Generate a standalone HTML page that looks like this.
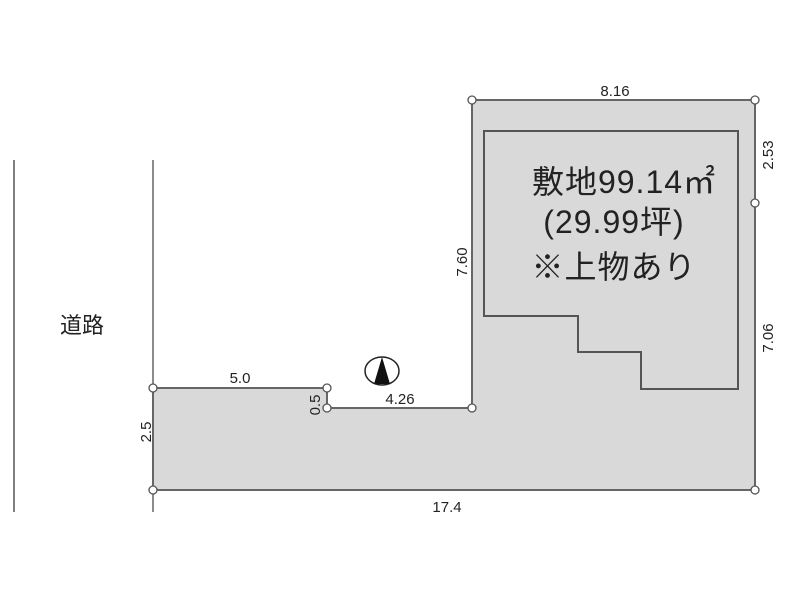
<!DOCTYPE html>
<html><head><meta charset="utf-8"><style>
html,body{margin:0;padding:0;background:#fff;width:800px;height:600px;overflow:hidden}
svg text{font-family:"Liberation Sans","Noto Sans CJK JP",sans-serif;fill:#222}
</style></head><body>
<svg width="800" height="600" xmlns="http://www.w3.org/2000/svg">
<line x1="14" y1="160" x2="14" y2="512" stroke="#555" stroke-width="1.5"/>
<line x1="153" y1="160" x2="153" y2="512" stroke="#666" stroke-width="1.5"/>
<polygon points="153,388 327,388 327,408 472,408 472,100 755,100 755,490 153,490" fill="#d9d9d9" stroke="#666" stroke-width="2"/>
<polygon points="484,131 738,131 738,389 641,389 641,352 578,352 578,316 484,316" fill="#d9d9d9" stroke="#555" stroke-width="2"/>
<g fill="#fff" stroke="#555" stroke-width="1.3">
<circle cx="153" cy="388" r="4"/><circle cx="327" cy="388" r="4"/><circle cx="327" cy="408" r="4"/>
<circle cx="472" cy="408" r="4"/><circle cx="472" cy="100" r="4"/><circle cx="755" cy="100" r="4"/>
<circle cx="755" cy="203" r="4"/><circle cx="755" cy="490" r="4"/><circle cx="153" cy="490" r="4"/>
</g>
<ellipse cx="382" cy="371" rx="17" ry="14" fill="#fff" stroke="#222" stroke-width="1.5"/>
<polygon points="382,357 374,384 390,384" fill="#111"/>
<text x="82" y="333" font-size="22" text-anchor="middle">道路</text>
<g font-size="15" text-anchor="middle">
<text x="615" y="96">8.16</text>
<text x="240" y="383">5.0</text>
<text x="400" y="404">4.26</text>
<text x="447" y="512">17.4</text>
<text transform="translate(773,155) rotate(-90)">2.53</text>
<text transform="translate(773,338) rotate(-90)">7.06</text>
<text transform="translate(467,262) rotate(-90)">7.60</text>
<text transform="translate(320,405) rotate(-90)">0.5</text>
<text transform="translate(151,432) rotate(-90)">2.5</text>
</g>
<g font-size="32" text-anchor="middle" letter-spacing="1">
<text x="624" y="193">敷地99.14㎡</text>
<text x="614" y="233">(29.99坪)</text>
<text x="614" y="278">※上物あり</text>
</g>
</svg>
</body></html>
